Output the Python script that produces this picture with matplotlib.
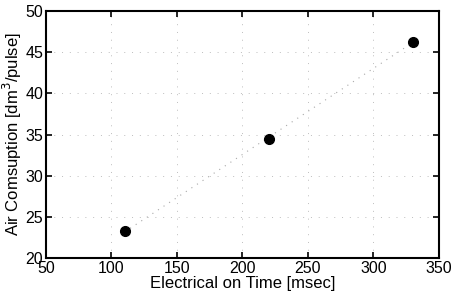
import numpy as np
import matplotlib
matplotlib.use('Agg')
import matplotlib.pyplot as plt

plt.rcParams['font.family'] = ['Liberation Sans', 'DejaVu Sans']

# data
on_time = [110, 220, 330]
air_use = [23.3, 34.4, 46.3]
x_ticks = [50, 100, 150, 200, 250, 300, 350]
y_ticks = [20, 25, 30, 35, 40, 45, 50]

fig = plt.figure(figsize=(4.51, 2.99), dpi=100)
ax = fig.add_axes([0.102, 0.137, 0.871, 0.826])

# faint linear fit through the points
coef = np.polyfit(on_time, air_use, 1)
xf = np.array([on_time[0], on_time[-1]])
ax.plot(xf, np.polyval(coef, xf), linestyle=(0, (1, 5)), color='#a8a8a8', linewidth=0.8)

ax.plot(on_time, air_use, 'o', color='black', markersize=7)

ax.set_xlim(50, 350)
ax.set_ylim(20, 50)
ax.set_xticks(x_ticks)
ax.set_yticks(y_ticks)
ax.grid(True, linestyle=(0, (1, 7)), color='#bdbdbd', linewidth=0.7)

ax.tick_params(direction='in', top=True, right=True, length=4, width=1.2,
               labelsize=11.5, pad=2)
for s in ax.spines.values():
    s.set_linewidth(1.5)

ax.set_xlabel('Electrical on Time [msec]', fontsize=12, labelpad=0)
ax.set_ylabel('Air Comsuption [dm$^3$/pulse]', fontsize=12, labelpad=1)

fig.savefig('out.png', dpi=100)
plt.close(fig)
